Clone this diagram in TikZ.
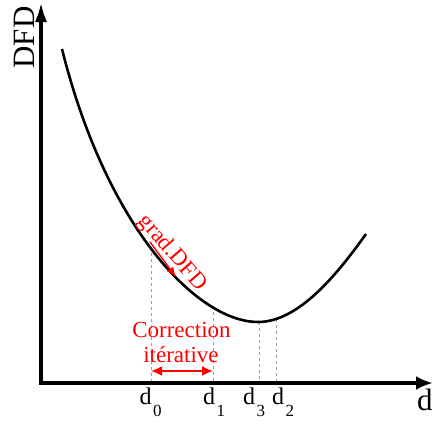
\documentclass[tikz,border=0pt]{standalone}
\usepackage{fontspec}
\setmainfont{Liberation Serif}
\usetikzlibrary{arrows.meta}
\newcommand\subd[1]{d\kern1.5pt\raisebox{-12.7pt}{\fontsize{17}{17}\selectfont #1}}
\begin{document}
\begin{tikzpicture}[x=1pt,y=-1pt,
  axis/.style={line width=4.8pt, line join=miter},
  curveline/.style={line width=2.6pt},
  guide/.style={black!38, line width=1pt, dash pattern=on 3pt off 3pt},
  redarrow/.style={red, line width=1.8pt},
  dlabel/.style={inner sep=0pt, anchor=base, font=\fontsize{24}{24}\selectfont},
  redtext/.style={inner sep=0pt, text=red, font=\fontsize{23}{23}\selectfont},
  bigtext/.style={inner sep=0pt, font=\fontsize{31}{31}\selectfont}]
\useasboundingbox (0,0) rectangle (432,424);
% named points
\coordinate (O) at (41,383);
\coordinate (Ytip) at (41,1);
\coordinate (Xtip) at (433,383);
\coordinate (S) at (62,49);
\coordinate (M) at (258,322);
\coordinate (E) at (366,234);
\coordinate (p1) at (107,229);
\coordinate (p2) at (198,322);
\coordinate (p3) at (298,322);
\coordinate (p4) at (336,276);
\coordinate (t0) at (151,247);
\coordinate (b0) at (151,383);
\coordinate (t1) at (213,306);
\coordinate (b1) at (213,383);
\coordinate (t3) at (259,322);
\coordinate (b3) at (259,383);
\coordinate (t2) at (276,319);
\coordinate (b2) at (276,383);
\coordinate (g1) at (150,242);
\coordinate (g2) at (176,277);
\coordinate (c0) at (151,371);
\coordinate (c1) at (213,371);
% guides
\draw[guide] (t0) -- (b0);
\draw[guide] (t1) -- (b1);
\draw[guide] (t3) -- (b3);
\draw[guide] (t2) -- (b2);
% curve
\draw[curveline] (S) .. controls (p1) and (p2) .. (M) .. controls (p3) and (p4) .. (E);
% axes
\draw[axis, {Latex[length=21pt,width=12pt]}-{Latex[length=17pt,width=14pt]}] (Ytip) -- (O) -- (Xtip);
% gradient arrow and text
\draw[red, line width=1.4pt, -{Latex[length=10pt,width=8pt]}] (g1) -- (g2);
\node[redtext, rotate=-49] (grad) at (172,253) {grad.DFD};
% correction
\draw[redarrow, {Latex[length=11pt,width=10pt]}-{Latex[length=11pt,width=10pt]}] (c0) -- (c1);
\node[redtext, anchor=base] (corr) at (181.5,337.7) {Correction};
\node[redtext, anchor=base] (iter) at (181,362.7) {itérative};
% axis labels
\node[bigtext, rotate=90] (dfd) at (24,37.5) {DFD};
\node[bigtext, anchor=base west] (dax) at (417,410) {d};
% tick labels
\node[dlabel] (d0) at (150.7,404) {\subd{0}};
\node[dlabel] (d1) at (214,404) {\subd{1}};
\node[dlabel] (d3) at (254,404) {\subd{3}};
\node[dlabel] (d2) at (283,404) {\subd{2}};
\end{tikzpicture}
\end{document}
